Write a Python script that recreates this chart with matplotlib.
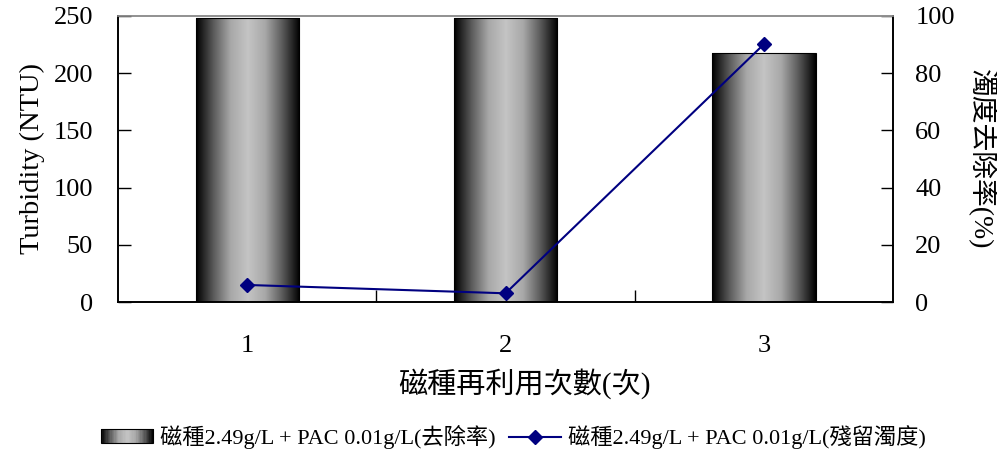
import matplotlib
matplotlib.use("Agg")
import matplotlib.pyplot as plt
import numpy as np
from matplotlib.patches import Rectangle
from matplotlib.legend_handler import HandlerBase
from matplotlib.colors import LinearSegmentedColormap

plt.rcParams["font.family"] = ["Liberation Serif", "Noto Sans CJK TC"]
plt.rcParams["axes.unicode_minus"] = False

# 數據
runs = ["1", "2", "3"]
removal = [99.4, 99.4, 87.1]        # 去除率 (%)
turbidity = [14.9, 7.6, 225.3]      # 殘留濁度 (NTU)
bar_label = "磁種2.49g/L + PAC 0.01g/L(去除率)"
line_label = "磁種2.49g/L + PAC 0.01g/L(殘留濁度)"

# 黑-灰-黑 漸層
grad_cmap = LinearSegmentedColormap.from_list(
    "cyl", ["#000000", "#5a5a5a", "#a8a8a8", "#c4c4c4", "#a8a8a8", "#5a5a5a", "#000000"])
grad = np.linspace(0, 1, 256).reshape(1, -1)


class GradientHandler(HandlerBase):
    def create_artists(self, legend, orig_handle, xdescent, ydescent,
                       width, height, fontsize, trans):
        n = 40
        arts = []
        for i in range(n):
            c = grad_cmap((i + 0.5) / n)
            r = Rectangle((-xdescent + width * i / n, -ydescent), width / n + 0.3, height,
                          facecolor=c, edgecolor="none", transform=trans)
            arts.append(r)
        border = Rectangle((-xdescent, -ydescent), width, height, facecolor="none",
                           edgecolor="black", linewidth=0.8, transform=trans)
        arts.append(border)
        return arts


fig = plt.figure(figsize=(9.97, 4.54), dpi=100)
ax = fig.add_axes([0.1184, 0.3348, 0.7773, 0.63])
ax2 = ax.twinx()

x = np.arange(1, len(runs) + 1)

# 去除率 柱狀 (右軸)
bars = ax2.bar(x, removal, width=0.40, color="none", edgecolor="black", linewidth=0.8,
               label=bar_label, zorder=2)
for b in bars:
    x0, w, h = b.get_x(), b.get_width(), b.get_height()
    im = ax2.imshow(grad, cmap=grad_cmap, aspect="auto", extent=(x0, x0 + w, 0, h),
                    zorder=1, interpolation="bilinear")
    im.set_clip_path(b)

# 殘留濁度 折線 (左軸)
ax.set_zorder(ax2.get_zorder() + 1)
ax.patch.set_visible(False)
line, = ax.plot(x, turbidity, color="#000080", marker="D", markersize=7, linewidth=1.5,
                label=line_label)

ax.set_xlim(0.5, 3.5)
ax.set_ylim(0, 250)
ax2.set_ylim(0, 100)
ax.set_yticks(np.arange(0, 251, 50))
ax2.set_yticks(np.arange(0, 101, 20))

ax.set_xticks(x)
ax.set_xticklabels(runs)
ax.set_xticks([1.5, 2.5], minor=True)
ax.tick_params(axis="x", which="major", length=0, pad=24, labelsize=19)
ax.tick_params(axis="x", which="minor", direction="in", length=9, width=1)
ax.tick_params(axis="y", direction="in", length=9, width=1, pad=18, labelsize=19)
ax2.tick_params(axis="y", direction="in", length=9, width=1, pad=16, labelsize=19)

for a in (ax, ax2):
    for s in ("left", "right", "bottom"):
        a.spines[s].set_linewidth(1.2)
    a.spines["top"].set_color("#909090")
    a.spines["top"].set_linewidth(1.2)

ax.set_ylabel("Turbidity (NTU)", fontsize=20.5, labelpad=6)
ax2.set_ylabel("濁度去除率(%)", fontsize=20, rotation=270, labelpad=30)
ax.set_xlabel("磁種再利用次數(次)", fontsize=21, labelpad=8)
ax.xaxis.label.set_x(0.525)

fig.legend([bars, line], [bar_label, line_label], loc="center", bbox_to_anchor=(0.515, 0.037),
           ncol=2, frameon=False, fontsize=16, handlelength=2.35, handleheight=0.6,
           columnspacing=0.6, handletextpad=0.3,
           handler_map={type(bars): GradientHandler()})

plt.savefig("out.png", dpi=100)
